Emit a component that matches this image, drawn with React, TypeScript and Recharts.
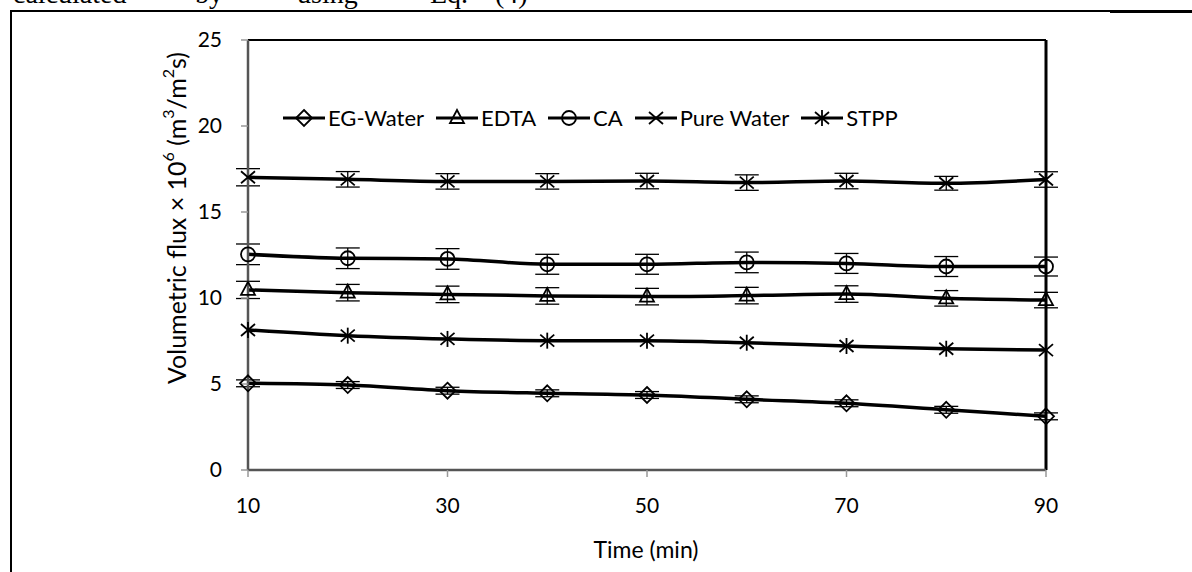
import React from "react";
import {
  LineChart,
  Line,
  XAxis,
  YAxis,
  ErrorBar,
  ReferenceLine,
  Label,
} from "recharts";

const times = [10, 20, 30, 40, 50, 60, 70, 80, 90];
const xTicks = [10, 30, 50, 70, 90];
const yTicks = [0, 5, 10, 15, 20, 25];

const egWater = [5.04, 4.94, 4.61, 4.46, 4.36, 4.11, 3.88, 3.5, 3.12];
const egWaterErr = [0.2, 0.2, 0.2, 0.2, 0.2, 0.2, 0.2, 0.2, 0.2];
const edta = [10.47, 10.31, 10.21, 10.12, 10.08, 10.14, 10.23, 9.98, 9.88];
const edtaErr = [0.5, 0.48, 0.48, 0.48, 0.48, 0.48, 0.48, 0.45, 0.45];
const ca = [12.54, 12.31, 12.27, 11.96, 11.96, 12.07, 12.01, 11.83, 11.83];
const caErr = [0.6, 0.6, 0.6, 0.58, 0.58, 0.6, 0.58, 0.58, 0.55];
const pureWater = [17.02, 16.9, 16.78, 16.78, 16.8, 16.71, 16.8, 16.67, 16.89];
const pureWaterErr = [0.5, 0.45, 0.45, 0.45, 0.45, 0.45, 0.45, 0.4, 0.45];
const stpp = [8.14, 7.81, 7.62, 7.52, 7.52, 7.4, 7.21, 7.05, 6.97];

const series = [
  { key: "eg", name: "EG-Water", marker: "diamond", err: true },
  { key: "edta", name: "EDTA", marker: "triangle", err: true },
  { key: "ca", name: "CA", marker: "circle", err: true },
  { key: "pure", name: "Pure Water", marker: "cross", err: true },
  { key: "stpp", name: "STPP", marker: "star", err: false },
];

const data = times.map((t, i) => ({
  time: t,
  eg: egWater[i],
  egErr: egWaterErr[i],
  edta: edta[i],
  edtaErr: edtaErr[i],
  ca: ca[i],
  caErr: caErr[i],
  pure: pureWater[i],
  pureErr: pureWaterErr[i],
  stpp: stpp[i],
}));

const FONT = "Lato, 'Open Sans', sans-serif";

function Marker({ cx, cy, kind }: { cx: number; cy: number; kind: string }) {
  const s = 7;
  const st = { stroke: "#000", strokeWidth: 1.8, fill: "none" };
  switch (kind) {
    case "diamond":
      return (
        <polygon
          points={`${cx},${cy - 8} ${cx + 8},${cy} ${cx},${cy + 8} ${cx - 8},${cy}`}
          {...st}
        />
      );
    case "triangle":
      return (
        <polygon
          points={`${cx},${cy - 8} ${cx + 7},${cy + 5} ${cx - 7},${cy + 5}`}
          {...st}
        />
      );
    case "circle":
      return <circle cx={cx} cy={cy} r={s} {...st} />;
    case "cross":
      return (
        <g {...st}>
          <line x1={cx - s} y1={cy - 6} x2={cx + s} y2={cy + 6} />
          <line x1={cx - s} y1={cy + 6} x2={cx + s} y2={cy - 6} />
        </g>
      );
    default:
      return (
        <g {...st}>
          <line x1={cx - s} y1={cy - 6} x2={cx + s} y2={cy + 6} />
          <line x1={cx - s} y1={cy + 6} x2={cx + s} y2={cy - 6} />
          <line x1={cx} y1={cy - 8} x2={cx} y2={cy + 8} />
        </g>
      );
  }
}

const dotFor = (kind: string) => (p: any) => {
  if (p.cx == null || p.cy == null) return <g key={`${kind}-${p.index}`} />;
  return <Marker key={`${kind}-${p.index}`} cx={p.cx} cy={p.cy} kind={kind} />;
};

function ChartLegend() {
  return (
    <div
      style={{
        position: "absolute",
        left: 283,
        top: 104,
        display: "flex",
        alignItems: "center",
        fontFamily: FONT,
        fontSize: 22,
        color: "#000",
      }}
    >
      {series.map((s, i) => (
        <div key={s.key} style={{ display: "flex", alignItems: "center", marginLeft: i === 0 ? 0 : 12 }}>
          <svg width={42} height={22} style={{ overflow: "visible" }}>
            <line x1={0} y1={11} x2={42} y2={11} stroke="#000" strokeWidth={3} />
            <Marker cx={21} cy={11} kind={s.marker} />
          </svg>
          <span style={{ marginLeft: 3, whiteSpace: "nowrap" }}>{s.name}</span>
        </div>
      ))}
    </div>
  );
}

const renderYLabel = () => (
  <text
    x={176}
    y={218}
    transform="rotate(-90, 176, 218)"
    textAnchor="middle"
    dominantBaseline="central"
    fontFamily={FONT}
    fontSize={25}
    fill="#000"
  >
    Volumetric flux × 10
    <tspan dy={-9} fontSize={16}>6</tspan>
    <tspan dy={9}> (m</tspan>
    <tspan dy={-9} fontSize={16}>3</tspan>
    <tspan dy={9}>/m</tspan>
    <tspan dy={-9} fontSize={16}>2</tspan>
    <tspan dy={9}>s)</tspan>
  </text>
);

const renderXLabel = () => (
  <text x={646} y={549} textAnchor="middle" dominantBaseline="central" fontFamily={FONT} fontSize={23} fill="#000">
    Time (min)
  </text>
);

const topWords = [
  { w: "calculated", x: 13 },
  { w: "by", x: 195 },
  { w: "using", x: 297 },
  { w: "Eq.", x: 430 },
  { w: "(4)", x: 495 },
];

export default function App() {
  return (
    <div
      style={{
        position: "absolute",
        left: 0,
        top: 0,
        width: 1192,
        height: 572,
        overflow: "hidden",
        background: "#fff",
      }}
    >
      {topWords.map((t) => (
        <span
          key={t.w}
          style={{
            position: "absolute",
            left: t.x,
            top: -20,
            fontFamily: "'Liberation Serif', serif",
            fontSize: 28,
            lineHeight: "28px",
            whiteSpace: "nowrap",
          }}
        >
          {t.w}
        </span>
      ))}
      <div style={{ position: "absolute", left: 10, top: 10, width: 1100, height: 1.5, background: "#000" }} />
      <div style={{ position: "absolute", left: 1110, top: 10, width: 82, height: 3, background: "#000" }} />
      <div style={{ position: "absolute", left: 10, top: 10, width: 2, height: 562, background: "#000" }} />
      <div style={{ position: "absolute", left: 0, top: 0 }}>
        <LineChart width={1192} height={572} data={data} margin={{ top: 40, right: 146, left: 0, bottom: 0 }}>
          <XAxis
            dataKey="time"
            type="number"
            domain={[10, 90]}
            ticks={xTicks}
            height={102}
            tickSize={7}
            tickMargin={21}
            axisLine={{ stroke: "#555", strokeWidth: 2.5 }}
            tickLine={{ stroke: "#999", strokeWidth: 1.5 }}
            tick={{ fill: "#000", fontSize: 21, fontFamily: FONT }}
          >
            <Label content={renderXLabel} />
          </XAxis>
          <YAxis
            type="number"
            domain={[0, 25]}
            ticks={yTicks}
            width={248}
            tickSize={7}
            tickMargin={19}
            axisLine={{ stroke: "#555", strokeWidth: 2.5 }}
            tickLine={{ stroke: "#999", strokeWidth: 1.5 }}
            tick={{ fill: "#000", fontSize: 21, fontFamily: FONT }}
          >
            <Label content={renderYLabel} />
          </YAxis>
          <ReferenceLine y={25} stroke="#000" strokeWidth={2} />
          <ReferenceLine x={90} stroke="#000" strokeWidth={3} />
          {series.map((s) => (
            <Line
              key={s.key}
              dataKey={s.key}
              name={s.name}
              type="monotone"
              stroke="#000"
              strokeWidth={3.5}
              dot={dotFor(s.marker)}
              activeDot={false}
              isAnimationActive={false}
            >
              {s.err ? (
                <ErrorBar dataKey={`${s.key}Err`} width={12} stroke="#000" strokeWidth={1.3} direction="y" />
              ) : null}
            </Line>
          ))}
        </LineChart>
      </div>
      <ChartLegend />
    </div>
  );
}
